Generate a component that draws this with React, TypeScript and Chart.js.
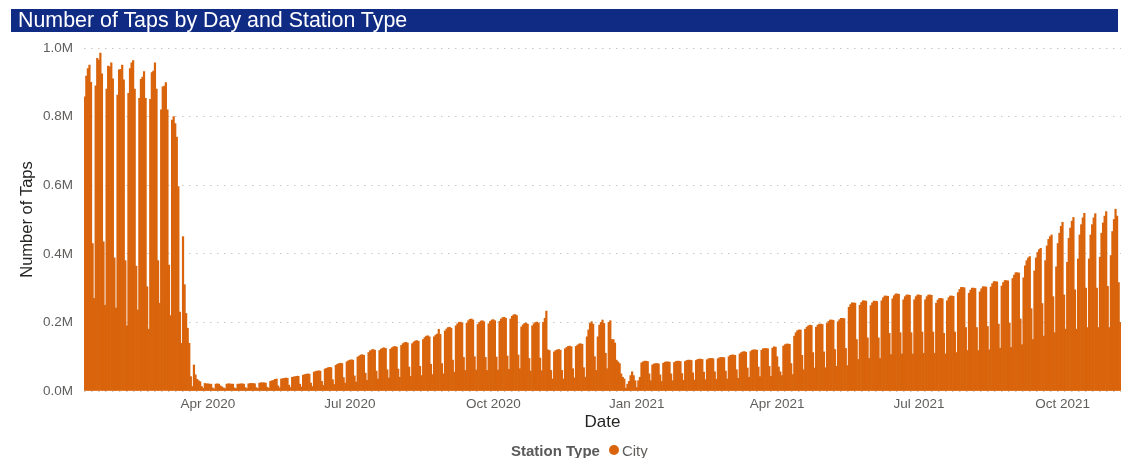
import { useEffect, useRef } from 'react';
import { Chart, registerables } from 'chart.js';

Chart.register(...registerables);

// First day of the series (a Monday); each row below is one Mon..Sun week.
const START_DATE = '2020-01-13';

// Daily taps, in thousands, one row per week (Mon, Tue, Wed, Thu, Fri, Sat, Sun).
const WEEKLY_TAPS_K: number[][] = [
  [858, 918, 940, 950, 900, 430, 270],
  [890, 970, 965, 985, 925, 435, 250],
  [880, 947, 945, 957, 910, 388, 242],
  [863, 936, 938, 950, 907, 380, 190],
  [868, 940, 957, 963, 880, 364, 236],
  [853, 909, 915, 931, 853, 304, 180],
  [850, 928, 933, 957, 880, 380, 256],
  [820, 887, 889, 899, 820, 367, 220],
  [790, 800, 780, 740, 596, 230, 139],
  [450, 310, 226, 183, 139, 42, 13],
  [76, 47, 34, 30, 27, 13, 8],
  [22, 21, 21, 20, 20, 9, 6],
  [20, 21, 20, 15, 12, 9, 7],
  [20, 21, 21, 20, 20, 9, 7],
  [20, 20, 21, 21, 20, 10, 7],
  [21, 22, 22, 22, 21, 10, 7],
  [23, 24, 24, 24, 23, 11, 8],
  [28, 30, 31, 34, 35, 15, 9],
  [35, 36, 37, 38, 37, 17, 10],
  [40, 41, 42, 43, 43, 20, 12],
  [46, 48, 49, 50, 49, 23, 13],
  [55, 57, 58, 59, 58, 28, 16],
  [64, 66, 68, 69, 68, 33, 19],
  [75, 78, 80, 81, 80, 39, 23],
  [85, 88, 90, 91, 90, 44, 26],
  [99, 102, 105, 106, 104, 52, 31],
  [112, 117, 120, 121, 119, 58, 35],
  [118, 122, 125, 126, 124, 62, 38],
  [122, 126, 129, 130, 128, 64, 40],
  [133, 138, 141, 142, 140, 70, 43],
  [138, 143, 146, 147, 145, 72, 45],
  [150, 156, 160, 161, 158, 78, 48],
  [158, 163, 166, 180, 165, 80, 50],
  [175, 181, 185, 186, 183, 90, 55],
  [190, 196, 200, 201, 198, 98, 60],
  [198, 205, 209, 210, 207, 100, 61],
  [194, 200, 204, 205, 202, 98, 60],
  [196, 203, 207, 208, 205, 99, 61],
  [203, 210, 214, 215, 212, 102, 63],
  [210, 218, 222, 223, 220, 105, 65],
  [187, 193, 197, 198, 195, 95, 58],
  [190, 196, 200, 201, 198, 96, 59],
  [200, 212, 233, 120, 118, 60, 35],
  [114, 118, 120, 121, 119, 60, 35],
  [123, 127, 130, 131, 129, 65, 38],
  [130, 134, 137, 138, 136, 68, 40],
  [158, 178, 197, 202, 195, 100, 60],
  [158, 192, 200, 207, 197, 110, 65],
  [200, 205, 150, 150, 140, 90, 85],
  [80, 50, 40, 35, 8, 20, 28],
  [45, 56, 45, 30, 10, 30, 40],
  [82, 85, 87, 87, 86, 50, 30],
  [76, 79, 80, 80, 79, 47, 28],
  [81, 84, 85, 85, 84, 50, 30],
  [83, 86, 87, 87, 86, 51, 31],
  [86, 89, 90, 90, 89, 53, 32],
  [89, 92, 93, 93, 92, 55, 33],
  [91, 94, 95, 95, 94, 56, 34],
  [94, 97, 98, 98, 97, 58, 35],
  [100, 104, 105, 105, 104, 62, 37],
  [108, 112, 114, 115, 113, 67, 40],
  [115, 119, 120, 120, 119, 70, 42],
  [119, 123, 124, 124, 123, 72, 43],
  [125, 129, 128, 100, 70, 56, 45],
  [131, 135, 137, 137, 136, 80, 48],
  [160, 170, 176, 178, 178, 104, 62],
  [180, 186, 190, 192, 191, 112, 67],
  [186, 192, 195, 195, 194, 114, 68],
  [197, 203, 207, 207, 206, 121, 72],
  [202, 208, 212, 212, 211, 124, 74],
  [244, 252, 257, 257, 256, 150, 92],
  [250, 258, 263, 263, 262, 155, 95],
  [249, 257, 262, 262, 261, 155, 95],
  [263, 272, 277, 277, 276, 168, 106],
  [269, 278, 283, 283, 282, 170, 108],
  [266, 275, 280, 280, 279, 170, 108],
  [266, 275, 280, 280, 279, 172, 110],
  [266, 275, 280, 280, 279, 172, 110],
  [256, 265, 270, 270, 269, 168, 108],
  [263, 272, 277, 277, 276, 172, 112],
  [287, 296, 302, 302, 301, 185, 118],
  [285, 294, 300, 300, 299, 185, 118],
  [289, 298, 304, 304, 303, 188, 120],
  [303, 313, 319, 319, 318, 195, 125],
  [306, 316, 322, 322, 321, 198, 127],
  [328, 338, 345, 345, 344, 210, 135],
  [330, 365, 380, 388, 392, 240, 150],
  [350, 388, 404, 412, 416, 255, 160],
  [380, 423, 442, 450, 455, 275, 170],
  [362, 430, 460, 480, 492, 280, 180],
  [375, 445, 475, 495, 506, 295, 180],
  [385, 455, 485, 505, 518, 300, 185],
  [385, 455, 485, 505, 517, 300, 185],
  [390, 460, 490, 510, 523, 305, 185],
  [395, 465, 500, 530, 510, 316, 200],
];

// Quarter-start dates that carry an x-axis label, and their text.
const TICK_DATES = ['2020-04-01', '2020-07-01', '2020-10-01', '2021-01-01', '2021-04-01', '2021-07-01', '2021-10-01'];
const TICK_LABELS = ['Apr 2020', 'Jul 2020', 'Oct 2020', 'Jan 2021', 'Apr 2021', 'Jul 2021', 'Oct 2021'];

// Y-axis range and tick step.
const Y_MAX = 1000000;
const Y_STEP = 200000;

const SERIES_NAME = 'City';
const LEGEND_TITLE = 'Station Type';
const CHART_TITLE = 'Number of Taps by Day and Station Type';
const BAR_COLOR = '#D9640C';
const FONT = "'Liberation Sans', Arial, sans-serif";

function buildDates(count: number): string[] {
  const start = Date.parse(START_DATE + 'T00:00:00Z');
  const out: string[] = [];
  for (let i = 0; i < count; i++) {
    out.push(new Date(start + i * 86400000).toISOString().slice(0, 10));
  }
  return out;
}

export default function App() {
  const canvasRef = useRef<HTMLCanvasElement>(null);

  useEffect(() => {
    const taps = WEEKLY_TAPS_K.flat().map((v) => v * 1000);
    const dates = buildDates(taps.length);
    const tickText = new Map<string, string>(TICK_DATES.map((d, i) => [d, TICK_LABELS[i]]));

    const chart = new Chart(canvasRef.current as HTMLCanvasElement, {
      type: 'bar',
      data: {
        labels: dates,
        datasets: [
          {
            label: SERIES_NAME,
            data: taps,
            backgroundColor: BAR_COLOR,
            borderWidth: 0,
            barPercentage: 1,
            categoryPercentage: 1,
          },
        ],
      },
      options: {
        responsive: false,
        animation: false,
        devicePixelRatio: 1,
        layout: { padding: { left: 0, right: 3, top: 48, bottom: 0 } },
        plugins: {
          legend: { display: false },
          tooltip: { enabled: false },
        },
        scales: {
          x: {
            grid: { display: false, drawTicks: false },
            border: { display: false },
            ticks: {
              autoSkip: false,
              maxRotation: 0,
              minRotation: 0,
              padding: 5,
              color: '#605E5C',
              font: { family: FONT, size: 13.5 },
              callback: (_v: any, i: number) => tickText.get(dates[i]) ?? null,
            },
            title: {
              display: true,
              text: 'Date',
              color: '#252423',
              font: { family: FONT, size: 17 },
              padding: { top: 0, bottom: 25 },
            },
            afterFit: (scale: any) => {
              scale.height = 67;
            },
          },
          y: {
            min: 0,
            max: Y_MAX,
            grid: { color: '#C8C6C4', lineWidth: 1, drawTicks: false },
            border: { display: false, dash: [1.5, 5.5] },
            ticks: {
              stepSize: Y_STEP,
              padding: 11,
              color: '#605E5C',
              font: { family: FONT, size: 13.5 },
              callback: (v: any) => (Number(v) / 1000000).toFixed(1) + 'M',
            },
            title: {
              display: true,
              text: 'Number of Taps',
              color: '#252423',
              font: { family: FONT, size: 16.5 },
              padding: { top: 18, bottom: 0 },
            },
            afterFit: (scale: any) => {
              scale.width = 84;
            },
          },
        },
      },
    });
    return () => chart.destroy();
  }, []);

  return (
    <div style={{ position: 'fixed', left: 0, top: 0, width: 1124, height: 458, background: '#fff', overflow: 'hidden' }}>
      <canvas ref={canvasRef} width={1124} height={458} style={{ position: 'absolute', left: 0, top: 0, display: 'block' }} />
      <div
        style={{
          position: 'absolute',
          left: 11,
          top: 9,
          width: 1107,
          height: 23,
          boxSizing: 'border-box',
          paddingLeft: 7,
          background: '#0F2B84',
          color: '#FFFFFF',
          fontFamily: FONT,
          fontSize: 21.4,
          lineHeight: '23px',
          whiteSpace: 'nowrap',
        }}
      >
        {CHART_TITLE}
      </div>
      <div
        style={{
          position: 'absolute',
          left: 511,
          top: 441,
          height: 18,
          display: 'flex',
          alignItems: 'center',
          fontFamily: FONT,
          fontSize: 15,
          whiteSpace: 'nowrap',
        }}
      >
        <span style={{ fontWeight: 'bold', color: '#595959' }}>{LEGEND_TITLE}</span>
        <span
          style={{
            display: 'inline-block',
            width: 10,
            height: 10,
            borderRadius: '50%',
            background: BAR_COLOR,
            marginLeft: 9,
          }}
        />
        <span style={{ color: '#605E5C', marginLeft: 3 }}>{SERIES_NAME}</span>
      </div>
    </div>
  );
}
